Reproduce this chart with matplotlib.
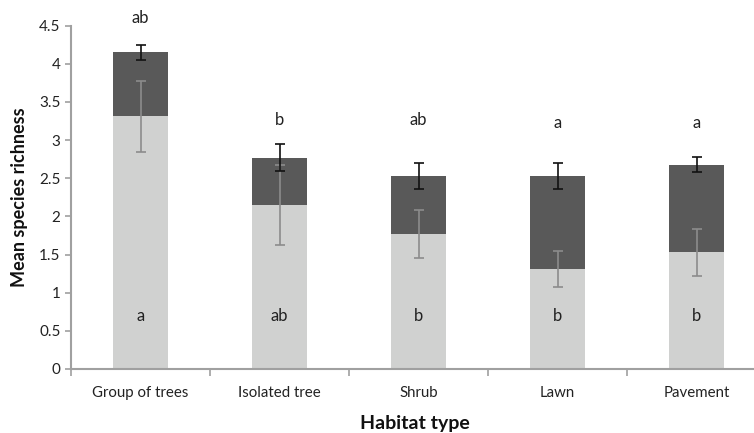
import numpy as np
import matplotlib.pyplot as plt
from matplotlib.ticker import FixedLocator, FuncFormatter

plt.rcParams['font.family'] = ['Lato', 'DejaVu Sans']

habitats = ["Group of trees", "Isolated tree", "Shrub", "Lawn", "Pavement"]
lower = [3.31, 2.15, 1.77, 1.31, 1.53]        # light segment
total = [4.15, 2.77, 2.53, 2.53, 2.68]        # top of stacked bar
lower_err = [0.46, 0.53, 0.32, 0.24, 0.31]
total_err = [0.10, 0.18, 0.17, 0.17, 0.10]
top_letters = ["ab", "b", "ab", "a", "a"]
bottom_letters = ["a", "ab", "b", "b", "b"]
top_letter_y = [4.6, 3.27, 3.26, 3.22, 3.22]
bottom_letter_y = 0.7

upper = [t - l for t, l in zip(total, lower)]
x = np.arange(len(habitats))

fig = plt.figure(figsize=(7.54, 4.33), dpi=100)
ax = fig.add_axes([71 / 754, 64 / 433, 695 / 754, 343.3 / 433])

ax.bar(x, lower, width=0.4, color="#d0d1d0")
ax.bar(x, upper, width=0.4, bottom=lower, color="#595959")
ax.errorbar(x, lower, yerr=lower_err, fmt="none", ecolor="#8c8c8c",
            elinewidth=1.2, capsize=3.5, capthick=1.2)
ax.errorbar(x, total, yerr=total_err, fmt="none", ecolor="#111111",
            elinewidth=1.2, capsize=3.5, capthick=1.2)

for i in range(len(habitats)):
    ax.text(x[i], top_letter_y[i], top_letters[i], ha="center", va="center",
            fontsize=12, color="#222222")
    ax.text(x[i], bottom_letter_y, bottom_letters[i], ha="center", va="center",
            fontsize=12, color="#222222")

ax.set_xlim(-0.5, len(habitats) - 0.5)
ax.set_ylim(0, 4.5)
ax.set_yticks(np.arange(0, 4.51, 0.5))
ax.yaxis.set_major_formatter(FuncFormatter(lambda v, p: f"{v:g}"))
ax.set_xticks(x)
ax.set_xticklabels(habitats)
ax.xaxis.set_minor_locator(FixedLocator(np.arange(-0.5, len(habitats), 1)))
ax.tick_params(axis="x", which="major", length=0, labelsize=10.8, pad=12,
               labelcolor="#222222")
ax.tick_params(axis="x", which="minor", length=5, color="#a0a0a0", width=1.2)
ax.tick_params(axis="y", length=4, color="#a0a0a0", width=1.2, labelsize=11,
               labelcolor="#222222")

for s in ["top", "right"]:
    ax.spines[s].set_visible(False)
for s in ["left", "bottom"]:
    ax.spines[s].set_color("#a0a0a0")
    ax.spines[s].set_linewidth(1.5)

ax.set_ylabel("Mean species richness", fontsize=13, fontweight="bold",
              color="#111111", labelpad=8)
ax.set_xlabel("Habitat type", fontsize=14, fontweight="bold", color="#111111")
ax.xaxis.set_label_coords((415 - 71) / 695, -0.135)

fig.savefig("out.png", dpi=100)
